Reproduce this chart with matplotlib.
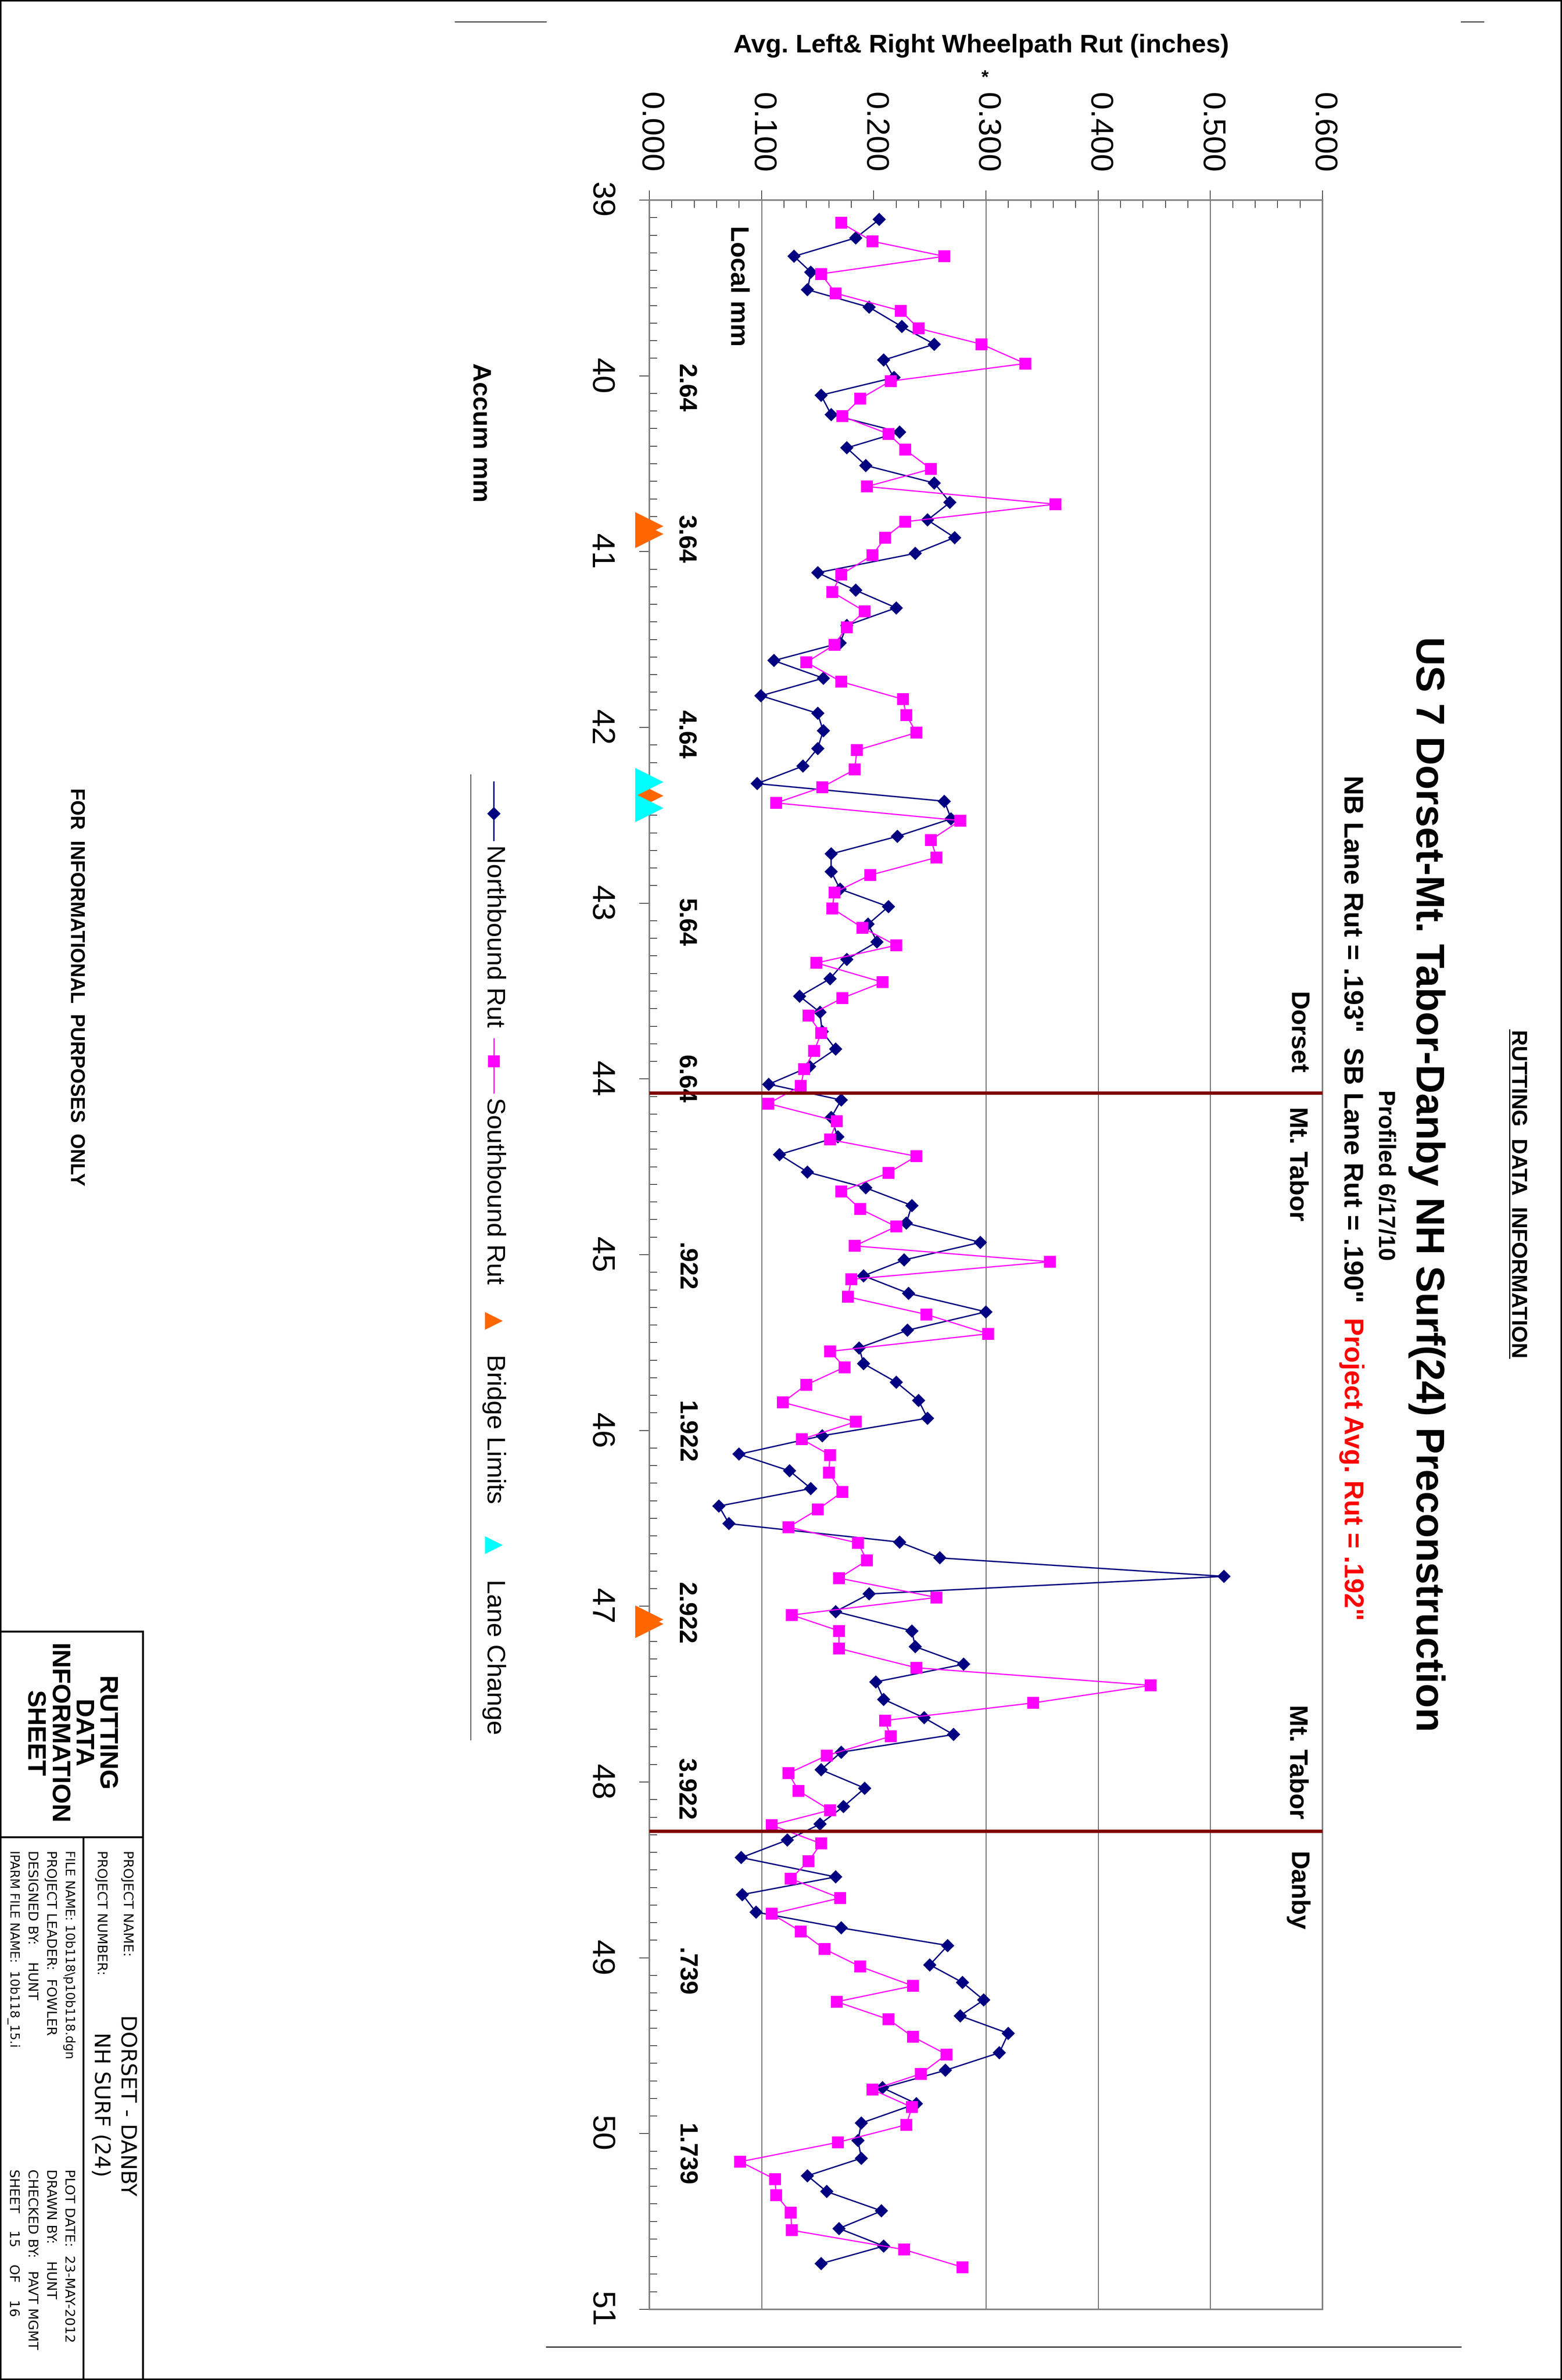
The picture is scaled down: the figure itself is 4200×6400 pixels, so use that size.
#!/usr/bin/env python

import numpy as np
import matplotlib as mpl
mpl.use('Agg')
import matplotlib.pyplot as plt
from matplotlib.lines import Line2D
from matplotlib import font_manager

mpl.rc('font', family=['Liberation Sans', 'DejaVu Sans'])

W, H = 4200, 6400

# ---- data (accumulated mile, avg rut inches) ----
nb_mile = [39.11, 39.215, 39.32, 39.41, 39.51, 39.61, 39.72, 39.82, 39.91, 40.01,
           40.11, 40.22, 40.32, 40.41, 40.51, 40.61, 40.72, 40.82, 40.92, 41.01,
           41.12, 41.22, 41.32, 41.42, 41.52, 41.62, 41.72, 41.82, 41.92, 42.02,
           42.12, 42.22, 42.32, 42.42, 42.52, 42.62, 42.72, 42.82, 42.92, 43.02,
           43.12, 43.22, 43.32, 43.43, 43.53, 43.62, 43.73, 43.83, 43.93, 44.03,
           44.12, 44.22, 44.33, 44.43, 44.53, 44.62, 44.72, 44.82, 44.93, 45.03,
           45.12, 45.22, 45.325, 45.43, 45.53, 45.62, 45.725, 45.83, 45.93, 46.03,
           46.135, 46.23, 46.33, 46.43, 46.53, 46.635, 46.725, 46.83, 46.93, 47.03,
           47.14, 47.23, 47.33, 47.43, 47.53, 47.635, 47.73, 47.83, 47.93, 48.035,
           48.14, 48.24, 48.33, 48.43, 48.54, 48.64, 48.74, 48.83, 48.93, 49.04,
           49.14, 49.24, 49.33, 49.43, 49.54, 49.64, 49.74, 49.83, 49.94, 50.04,
           50.14, 50.24, 50.33, 50.44, 50.54, 50.64, 50.74]
nb_rut = [0.205, 0.184, 0.129, 0.144, 0.141, 0.196, 0.225, 0.254, 0.209, 0.218,
          0.153, 0.162, 0.223, 0.176, 0.193, 0.254, 0.268, 0.248, 0.272, 0.237,
          0.150, 0.184, 0.220, 0.176, 0.170, 0.111, 0.155, 0.0995, 0.150, 0.155,
          0.150, 0.137, 0.096, 0.263, 0.269, 0.221, 0.162, 0.162, 0.170, 0.213,
          0.195, 0.203, 0.176, 0.161, 0.134, 0.152, 0.154, 0.166, 0.143, 0.1065,
          0.171, 0.162, 0.168, 0.116, 0.141, 0.193, 0.234, 0.229, 0.295, 0.227,
          0.191, 0.231, 0.300, 0.230, 0.187, 0.191, 0.220, 0.240, 0.248, 0.154,
          0.080, 0.125, 0.144, 0.062, 0.071, 0.223, 0.259, 0.512, 0.196, 0.166,
          0.234, 0.237, 0.280, 0.202, 0.209, 0.245, 0.271, 0.171, 0.153, 0.192,
          0.173, 0.152, 0.123, 0.082, 0.166, 0.083, 0.095, 0.171, 0.266, 0.250,
          0.279, 0.298, 0.277, 0.320, 0.312, 0.264, 0.208, 0.238, 0.189, 0.186,
          0.189, 0.141, 0.158, 0.207, 0.169, 0.209, 0.153]

sb_mile = [39.13, 39.235, 39.32, 39.42, 39.53, 39.63, 39.73, 39.82, 39.93, 40.03,
           40.13, 40.23, 40.33, 40.42, 40.53, 40.63, 40.73, 40.83, 40.92, 41.02,
           41.13, 41.23, 41.34, 41.43, 41.53, 41.63, 41.74, 41.84, 41.93, 42.03,
           42.13, 42.24, 42.34, 42.43, 42.53, 42.64, 42.74, 42.84, 42.94, 43.03,
           43.14, 43.24, 43.34, 43.45, 43.54, 43.64, 43.74, 43.84, 43.945, 44.04,
           44.14, 44.24, 44.345, 44.44, 44.535, 44.64, 44.74, 44.84, 44.95, 45.04,
           45.14, 45.24, 45.34, 45.45, 45.55, 45.64, 45.74, 45.84, 45.95, 46.05,
           46.14, 46.24, 46.35, 46.45, 46.55, 46.64, 46.74, 46.84, 46.95, 47.05,
           47.14, 47.24, 47.35, 47.45, 47.55, 47.65, 47.74, 47.85, 47.95, 48.05,
           48.16, 48.245, 48.35, 48.45, 48.55, 48.66, 48.75, 48.85, 48.95, 49.05,
           49.16, 49.25, 49.35, 49.45, 49.55, 49.66, 49.75, 49.85, 49.95, 50.05,
           50.16, 50.26, 50.35, 50.45, 50.55, 50.66, 50.76]
sb_rut = [0.171, 0.199, 0.263, 0.153, 0.166, 0.224, 0.240, 0.296, 0.335, 0.215,
          0.188, 0.172, 0.213, 0.228, 0.251, 0.194, 0.362, 0.228, 0.210, 0.199,
          0.171, 0.163, 0.192, 0.176, 0.165, 0.140, 0.171, 0.226, 0.229, 0.238,
          0.185, 0.183, 0.154, 0.113, 0.277, 0.251, 0.256, 0.197, 0.165, 0.163,
          0.190, 0.220, 0.149, 0.208, 0.172, 0.142, 0.153, 0.147, 0.138, 0.135,
          0.106, 0.167, 0.161, 0.238, 0.213, 0.171, 0.188, 0.220, 0.183, 0.357,
          0.180, 0.177, 0.247, 0.302, 0.161, 0.174, 0.140, 0.119, 0.184, 0.136,
          0.161, 0.160, 0.172, 0.150, 0.124, 0.186, 0.194, 0.169, 0.256, 0.127,
          0.169, 0.169, 0.238, 0.447, 0.342, 0.210, 0.215, 0.158, 0.124, 0.133,
          0.161, 0.109, 0.153, 0.142, 0.126, 0.170, 0.109, 0.135, 0.156, 0.188,
          0.235, 0.167, 0.213, 0.235, 0.265, 0.242, 0.199, 0.234, 0.229, 0.168,
          0.081, 0.112, 0.113, 0.126, 0.127, 0.227, 0.279]

bridge_mile = [40.855, 40.90, 42.39, 47.075, 47.10]
lane_mile = [42.31, 42.46]
town_bounds = [44.08, 48.28]

local_pos = [40.07, 40.93, 42.04, 43.11, 44.0, 45.07, 46.01, 47.04, 48.04, 49.08, 50.12]
local_lbl = ['2.64', '3.64', '4.64', '5.64', '6.64', '.922', '1.922', '2.922',
             '3.922', '.739', '1.739']

rut_ticks = [0.0, 0.1, 0.2, 0.3, 0.4, 0.5, 0.6]
rut_grid = [0.1, 0.3, 0.4, 0.5]
mile_ticks = list(range(39, 52))

NAVY = '#000080'
PINK = '#FF00FF'
ORANGE = '#FF6600'
CYAN = '#00FFFF'
GREY = '#808080'

installed = {f.name for f in font_manager.fontManager.ttflist}
narrow = 'Liberation Sans Narrow' in installed


def fxy(x, y):
    """page pixel (from top-left) -> figure fraction"""
    return x / W, 1 - y / H


def vline(x, y0, y1, lw=1.0, color='black'):
    fig.add_artist(Line2D([x / W, x / W], [1 - y0 / H, 1 - y1 / H], color=color,
                          lw=lw, transform=fig.transFigure))


def hline(y, x0, x1, lw=1.0, color='black'):
    fig.add_artist(Line2D([x0 / W, x1 / W], [1 - y / H, 1 - y / H], color=color,
                          lw=lw, transform=fig.transFigure))


def vtext(x, y, s, va='top', **kw):
    return fig.text(*fxy(x, y), s, rotation=-90, ha='center', va=va, **kw)


fig = plt.figure(figsize=(W / 100, H / 100), dpi=100)
fig.patch.set_facecolor('white')

# ---- main plot (page is turned, mileage runs down the page) ----
ax = fig.add_axes([1746 / W, 1 - 6210 / H, (3556 - 1746) / W, (6210 - 538) / H])
ax.set_xlim(0, 0.6)
ax.set_ylim(51, 39)

for g in rut_grid:
    ax.axvline(g, color='black', lw=1.0, zorder=0.5)

ax.plot(nb_rut, nb_mile, color=NAVY, lw=2.6, marker='D', ms=18.5, mew=0, zorder=3)
ax.plot(sb_rut, sb_mile, color=PINK, lw=2.3, marker='s', ms=23, mew=0, zorder=4)

ax.plot(np.zeros(len(bridge_mile)), bridge_mile, ls='none', marker='>', ms=55,
        mew=0, color=ORANGE, clip_on=False, zorder=6)
ax.plot(np.zeros(len(lane_mile)), lane_mile, ls='none', marker='>', ms=55,
        mew=0, color=CYAN, clip_on=False, zorder=7)

for b in town_bounds:
    ax.axhline(b, color='#800000', lw=6.5, zorder=5)

ax.text(0.577, 43.972, 'Dorset', rotation=-90, ha='center', va='bottom',
        fontsize=50, fontweight='bold')
ax.text(0.577, 44.159, 'Mt. Tabor', rotation=-90, ha='center', va='top',
        fontsize=50, fontweight='bold')
ax.text(0.577, 48.21, 'Mt. Tabor', rotation=-90, ha='center', va='bottom',
        fontsize=50, fontweight='bold')
ax.text(0.577, 48.398, 'Danby', rotation=-90, ha='center', va='top',
        fontsize=50, fontweight='bold')

ax.text(0.0787, 39.146, 'Local mm', rotation=-90, ha='center', va='top',
        fontsize=50, fontweight='bold')
for p, s in zip(local_pos, local_lbl):
    ax.text(0.0316, p, s, rotation=-90, ha='center', va='center',
            fontsize=48, fontweight='bold')

# axes / ticks
for sp in ax.spines.values():
    sp.set_color(GREY)
    sp.set_linewidth(3)

ax.xaxis.set_ticks_position('top')
ax.set_xticks(rut_ticks)
ax.set_xticklabels(['%.3f' % v for v in rut_ticks])
ax.set_xticks(np.arange(0, 0.6001, 0.02), minor=True)
ax.tick_params(axis='x', which='major', direction='out', length=19, width=1.2,
               labelsize=62, pad=34, labelrotation=-90)
ax.tick_params(axis='x', which='minor', direction='in', length=15, width=1.2)

ax.yaxis.set_ticks_position('left')
ax.set_yticks(mile_ticks)
ax.set_yticklabels([str(v) for v in mile_ticks])
ax.set_yticks(np.arange(39, 51.001, 0.1), minor=True)
ax.tick_params(axis='y', which='major', direction='out', length=19.5, width=1.2,
               labelsize=62, pad=47, labelrotation=-90)
ax.tick_params(axis='y', which='minor', direction='in', length=15, width=1.2)
for t in ax.get_yticklabels():
    t.set_va('center')

# ---- page texts ----
fig.text(*fxy(2638, 123), 'Avg. Left& Right Wheelpath Rut (inches)', ha='center',
         va='center', fontsize=50, fontweight='bold')
fig.text(*fxy(2649, 223), '*', ha='center', va='baseline', fontsize=36,
         fontweight='bold')

vtext(3836, 1712, 'US 7 Dorset-Mt. Tabor-Danby NH Surf(24) Preconstruction',
      fontsize=77, fontweight='bold')
vtext(3723, 2931, 'Profiled 6/17/10', fontsize=45, fontweight='bold')

renderer = fig.canvas.get_renderer()
t_nb = vtext(3634, 2085, 'NB Lane Rut = .193"  SB Lane Rut = .190"',
             fontsize=52, fontweight='bold')
bb = t_nb.get_window_extent(renderer)
red_top = (bb.y0 - 40) / H
fig.text(3634 / W, red_top, 'Project Avg. Rut = .192"', rotation=-90, ha='center',
         va='top', fontsize=52, fontweight='bold', color='#FF0000')

t_hd = vtext(4080, 2769, 'RUTTING  DATA  INFORMATION', fontsize=42, fontweight='bold')
bb = t_hd.get_window_extent(renderer)
fig.add_artist(Line2D([4059 / W, 4059 / W], [bb.y0 / H, bb.y1 / H], color='black',
                      lw=2.2, transform=fig.transFigure))

vtext(1290, 976, 'Accum mm', fontsize=50, fontweight='bold')
vtext(203, 2654, 'FOR  INFORMATIONAL  PURPOSES  ONLY', va='center', fontsize=38,
      fontweight='bold')

# ---- legend (turned with the page) ----
vline(1266, 2083, 4679, lw=1.2)
vline(1328, 2103, 2260, lw=2.6, color=NAVY)
fig.add_artist(Line2D([1328 / W], [1 - 2188 / H], marker='D', ms=18.5, mew=0,
                      color=NAVY, transform=fig.transFigure))
vline(1328, 2793, 2939, lw=2.3, color=PINK)
fig.add_artist(Line2D([1328 / W], [1 - 2854 / H], marker='s', ms=23, mew=0,
                      color=PINK, transform=fig.transFigure))
fig.add_artist(Line2D([1328 / W], [1 - 3552 / H], marker='>', ms=35, mew=0,
                      color=ORANGE, transform=fig.transFigure))
fig.add_artist(Line2D([1328 / W], [1 - 4155 / H], marker='>', ms=35, mew=0,
                      color=CYAN, transform=fig.transFigure))
vtext(1328, 2272, 'Northbound Rut', fontsize=50)
vtext(1328, 2951, 'Southbound Rut', fontsize=50)
vtext(1328, 3642, 'Bridge Limits', fontsize=50)
vtext(1328, 4247, 'Lane Change', fontsize=50)

# ---- title block ----
hline(4387, 0, 384, lw=3.6)
vline(384, 4387, 6400, lw=3.6)
hline(4940, 0, 384, lw=3.6)
vline(224, 4940, 6400, lw=3.6)

if narrow:
    blk = dict(family=['Liberation Sans Narrow', 'Liberation Sans'], fontsize=57)
else:
    blk = dict(fontsize=50)
fig.text(*fxy(186, 4662), 'RUTTING\nDATA\nINFORMATION\nSHEET', rotation=-90,
         ha='center', va='center', multialignment='center', linespacing=1.0,
         fontweight='bold', **blk)

cad = dict(family='DejaVu Sans')
vtext(342, 4976, 'PROJECT NAME:', fontsize=26, **cad)
vtext(272, 4976, 'PROJECT NUMBER:', fontsize=26, **cad)
vtext(340, 5418, 'DORSET - DANBY', fontsize=41, **cad)
vtext(269, 5465, 'NH SURF (24)', fontsize=41, **cad)
vtext(185, 4976, 'FILE NAME: 10b118\\p10b118.dgn', fontsize=24, **cad)
vtext(136, 4976, 'PROJECT LEADER:  FOWLER', fontsize=26, **cad)
vtext(86, 4976, 'DESIGNED BY:    HUNT', fontsize=26, **cad)
vtext(36, 4976, 'IPARM FILE NAME:  10b118_15.i', fontsize=24, **cad)
vtext(185, 5833, 'PLOT DATE:  23-MAY-2012', fontsize=26, **cad)
vtext(136, 5833, 'DRAWN BY:    HUNT', fontsize=26, **cad)
vtext(86, 5833, 'CHECKED BY:   PAVT MGMT', fontsize=26, **cad)
vtext(36, 5833, 'SHEET    15    OF    16', fontsize=26, **cad)

# ---- page frame bits ----
hline(59, 1224, 1469, lw=1.5)
hline(59, 3929, 3990, lw=1.5)
hline(6311, 1469, 3928, lw=2.0)
fig.add_artist(plt.Rectangle((0, 0), 1, 1, transform=fig.transFigure, fill=False,
                             lw=5.8, ec='black'))

fig.savefig('out.png', dpi=100)
